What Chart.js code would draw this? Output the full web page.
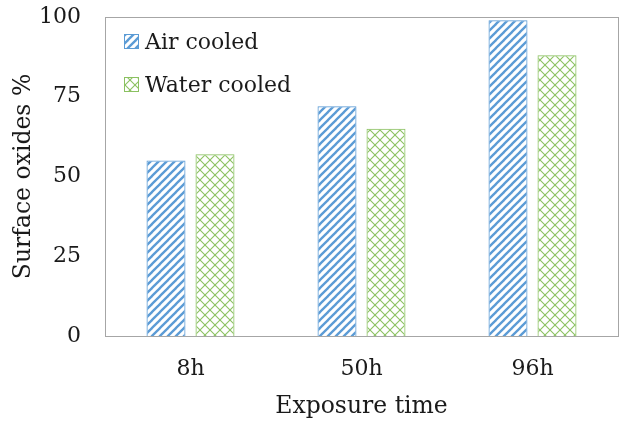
<!DOCTYPE html>
<html>
<head>
<meta charset="utf-8">
<script src="https://cdn.jsdelivr.net/npm/chart.js@4/dist/chart.umd.min.js"></script>
<style>
  html, body { margin: 0; padding: 0; background: #fff; }
  #wrap { width: 637px; height: 425px; position: relative; }
</style>
</head>
<body>
<div id="wrap"><canvas id="c" width="637" height="425"></canvas></div>
<script>
const categories = ['8h', '50h', '96h'];
const airCooled = [55, 72, 99];
const waterCooled = [57, 65, 88];
const yTicks = [0, 25, 50, 75, 100];
const seriesLabels = ['Air cooled', 'Water cooled'];
const xTitle = 'Exposure time';
const yTitle = 'Surface oxides %';

const FONT = '"DejaVu Serif", serif';
const BLUE = '#5B9BD5';
const GREEN = '#8BC161';
const TEXT = '#1a1a1a';

function stripePattern(color) {
  const s = 8;
  const cv = document.createElement('canvas');
  cv.width = s; cv.height = s;
  const g = cv.getContext('2d');
  g.strokeStyle = color;
  g.lineWidth = 2.3;
  g.lineCap = 'square';
  [[0, s, s, 0], [-s, s, s, -s], [0, 2 * s, 2 * s, 0]].forEach(l => {
    g.beginPath(); g.moveTo(l[0], l[1]); g.lineTo(l[2], l[3]); g.stroke();
  });
  return g.createPattern(cv, 'repeat');
}
function crossPattern(color) {
  const s = 10;
  const cv = document.createElement('canvas');
  cv.width = s; cv.height = s;
  const g = cv.getContext('2d');
  g.strokeStyle = color;
  g.lineWidth = 1.1;
  g.beginPath(); g.moveTo(0, 0); g.lineTo(s, s); g.stroke();
  g.beginPath(); g.moveTo(0, s); g.lineTo(s, 0); g.stroke();
  return g.createPattern(cv, 'repeat');
}

const airPat = stripePattern(BLUE);
const waterPat = crossPattern(GREEN);

const boxPlugin = {
  id: 'boxPlugin',
  afterDatasetsDraw(chart) {
    const { ctx, chartArea: a } = chart;
    ctx.save();
    ctx.strokeStyle = '#A6A6A6';
    ctx.lineWidth = 1;
    ctx.strokeRect(Math.round(a.left) + 0.5, Math.round(a.top) + 0.5,
      Math.round(a.right - a.left), Math.round(a.bottom - a.top));
    ctx.restore();
  },
  afterDraw(chart) {
    const { ctx, chartArea: a } = chart;
    ctx.save();
    const items = chart.data.datasets;
    items.forEach((ds, i) => {
      const bx = a.left + 19, by = a.top + 17 + i * 43;
      ctx.fillStyle = ds.backgroundColor;
      ctx.fillRect(bx, by, 15, 15);
      ctx.strokeStyle = ds.borderColor;
      ctx.lineWidth = 1;
      ctx.strokeRect(bx + 0.5, by + 0.5, 14, 14);
      ctx.fillStyle = TEXT;
      ctx.font = '22px ' + FONT;
      ctx.textBaseline = 'alphabetic';
      ctx.textAlign = 'left';
      ctx.fillText(ds.label, bx + 21, by + 15);
    });
    ctx.restore();
  }
};

new Chart(document.getElementById('c'), {
  type: 'bar',
  data: {
    labels: categories,
    datasets: [
      { label: seriesLabels[0], data: airCooled, backgroundColor: airPat, borderColor: BLUE, borderWidth: 1 },
      { label: seriesLabels[1], data: waterCooled, backgroundColor: waterPat, borderColor: GREEN, borderWidth: 1 }
    ]
  },
  options: {
    responsive: false,
    animation: false,
    devicePixelRatio: 1,
    layout: { padding: { top: 17, right: 19, left: 0, bottom: 0 } },
    datasets: { bar: { categoryPercentage: 0.573, barPercentage: 0.796 } },
    plugins: { legend: { display: false }, tooltip: { enabled: false } },
    scales: {
      x: {
        grid: { display: false, drawTicks: false },
        border: { display: false },
        ticks: { color: TEXT, font: { family: FONT, size: 22 }, padding: 20 },
        title: { display: true, text: xTitle, color: TEXT, font: { family: FONT, size: 23.5 }, padding: { top: 0, bottom: 4 } },
        afterFit(s) { s.height = 89; s.paddingLeft = 0; s.paddingRight = 0; }
      },
      y: {
        min: 0, max: 100,
        afterBuildTicks(s) { s.ticks = yTicks.map(v => ({ value: v })); },
        grid: { display: false, drawTicks: false },
        border: { display: false },
        ticks: { color: TEXT, font: { family: FONT, size: 22 }, padding: 24 },
        title: { display: true, text: yTitle, color: TEXT, font: { family: FONT, size: 23.5 }, padding: { top: 10, bottom: 0 } },
        afterFit(s) { s.width = 105; s.paddingTop = 0; s.paddingBottom = 0; }
      }
    }
  },
  plugins: [boxPlugin]
});
</script>
</body>
</html>
